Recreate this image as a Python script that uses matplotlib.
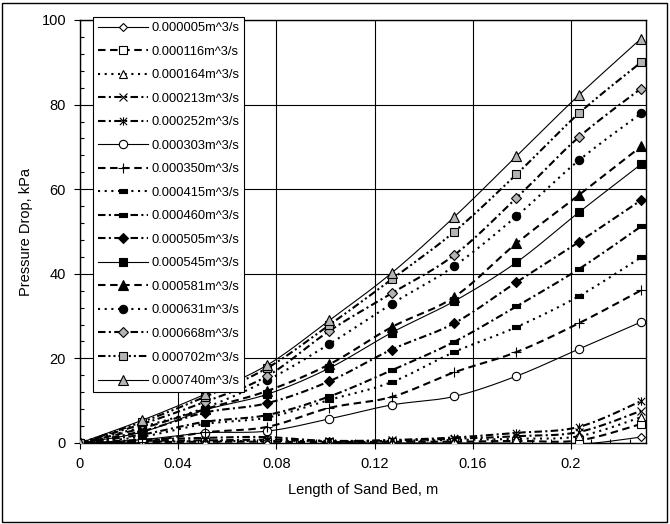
import numpy as np
import matplotlib
matplotlib.use("Agg")
import matplotlib.pyplot as plt
from matplotlib.lines import Line2D
from matplotlib.patches import Rectangle
from matplotlib.path import Path

plt.rcParams['font.family'] = ['Liberation Sans', 'DejaVu Sans']

# ---------------- data ----------------
bed_length = [0, 0.0254, 0.0508, 0.0762, 0.1016, 0.127, 0.1524, 0.1778, 0.2032, 0.2286]

flow_labels = ["0.000005m^3/s", "0.000116m^3/s", "0.000164m^3/s", "0.000213m^3/s",
               "0.000252m^3/s", "0.000303m^3/s", "0.000350m^3/s", "0.000415m^3/s",
               "0.000460m^3/s", "0.000505m^3/s", "0.000545m^3/s", "0.000581m^3/s",
               "0.000631m^3/s", "0.000668m^3/s", "0.000702m^3/s", "0.000740m^3/s"]

dp_000005 = [0, 0.0, -0.8, -0.8, 0.0, 0.0, 0.0, 0.0, -0.3, 1.4]
dp_000116 = [0, 0.2, 0.3, 0.3, 0.2, 0.3, 0.3, 0.5, 0.6, 4.5]
dp_000164 = [0, 0.3, 0.4, 0.5, 0.4, 0.5, 0.7, 1.0, 1.6, 6.1]
dp_000213 = [0, 0.5, 0.6, 0.8, 0.5, 0.6, 1.0, 1.6, 2.6, 7.6]
dp_000252 = [0, 0.8, 1.2, 1.4, 0.4, 0.7, 1.3, 2.4, 3.8, 9.9]
dp_000303 = [0, 0.8, 2.4, 2.8, 5.7, 9.0, 11.0, 15.8, 22.2, 28.6]
dp_000350 = [0, 0.3, 2.5, 3.8, 8.3, 10.9, 16.7, 21.5, 28.3, 36.1]
dp_000415 = [0, 1.5, 4.5, 6.0, 10.2, 14.4, 21.5, 27.4, 34.7, 43.9]
dp_000460 = [0, 2.0, 5.0, 6.6, 11.0, 17.2, 23.9, 32.3, 41.1, 51.2]
dp_000505 = [0, 2.8, 7.2, 9.4, 14.6, 22.1, 28.3, 38.0, 47.5, 57.4]
dp_000545 = [0, 2.6, 7.8, 11.5, 17.7, 26.1, 33.5, 42.7, 54.5, 65.9]
dp_000581 = [0, 3.5, 8.0, 12.3, 18.6, 27.4, 34.5, 47.2, 58.6, 70.1]
dp_000631 = [0, 3.8, 8.3, 14.8, 23.4, 32.9, 41.8, 53.6, 66.8, 77.9]
dp_000668 = [0, 4.5, 9.7, 15.8, 26.5, 35.4, 44.4, 57.9, 72.3, 83.8]
dp_000702 = [0, 5.0, 10.9, 17.7, 27.9, 38.7, 49.9, 63.5, 77.9, 90.0]
dp_000740 = [0, 5.4, 11.5, 18.4, 29.0, 40.2, 53.4, 67.8, 82.2, 95.6]

series = [dp_000005, dp_000116, dp_000164, dp_000213, dp_000252, dp_000303,
          dp_000350, dp_000415, dp_000460, dp_000505, dp_000545, dp_000581,
          dp_000631, dp_000668, dp_000702, dp_000740]

x_ticks = [0, 0.04, 0.08, 0.12, 0.16, 0.2]
x_tick_labels = ["0", "0.04", "0.08", "0.12", "0.16", "0.2"]
y_ticks = [0, 20, 40, 60, 80, 100]

# ---------------- styles ----------------
GRAY = '#b4b4b4'
asterisk = Path([(-1, -1), (1, 1), (-1, 1), (1, -1), (0, -1.15), (0, 1.15)],
                [Path.MOVETO, Path.LINETO, Path.MOVETO, Path.LINETO, Path.MOVETO, Path.LINETO])
dashmark = [(-1, -0.4), (1, -0.4), (1, 0.4), (-1, 0.4), (-1, -0.4)]

solid = '-'
dashed = (0, (3.6, 2.2))
dotted = (0, (1, 2.2))
dashdot = (0, (3.6, 1.6, 1, 1.6))
dashdotdot = (0, (3.6, 1.4, 1, 1.4, 1, 1.4))

styles = [
    dict(ls=solid, lw=0.8, marker='D', mfc='white', ms=4.5),
    dict(ls=dashed, lw=1.5, marker='s', mfc='white', ms=5.5),
    dict(ls=dotted, lw=1.5, marker='^', mfc='white', ms=6),
    dict(ls=dashdot, lw=1.5, marker='x', mfc='black', ms=6),
    dict(ls=dashdot, lw=1.5, marker=asterisk, mfc='black', ms=6),
    dict(ls=solid, lw=0.8, marker='o', mfc='white', ms=6),
    dict(ls=dashed, lw=1.5, marker='+', mfc='black', ms=7),
    dict(ls=dotted, lw=1.5, marker=dashmark, mfc='black', ms=6),
    dict(ls=dashdot, lw=1.5, marker=dashmark, mfc='black', ms=6),
    dict(ls=dashdot, lw=1.5, marker='D', mfc='black', ms=5),
    dict(ls=solid, lw=0.8, marker='s', mfc='black', ms=6),
    dict(ls=dashed, lw=1.5, marker='^', mfc='black', ms=6.5),
    dict(ls=dotted, lw=1.5, marker='o', mfc='black', ms=6),
    dict(ls=dashdot, lw=1.5, marker='D', mfc=GRAY, ms=5),
    dict(ls=dashdotdot, lw=1.5, marker='s', mfc=GRAY, ms=6),
    dict(ls=solid, lw=0.8, marker='^', mfc=GRAY, ms=6.5),
]


def smooth(xs, ys, n=24):
    """Excel-like Bezier smoothing through the data points."""
    xs = np.asarray(xs, float)
    ys = np.asarray(ys, float)
    P = np.column_stack([xs, ys])
    out = [P[0]]
    for i in range(len(P) - 1):
        p0 = P[i - 1] if i > 0 else P[i]
        p1 = P[i]
        p2 = P[i + 1]
        p3 = P[i + 2] if i + 2 < len(P) else P[i + 1]
        c1 = p1 + (p2 - p0) / 6.0
        c2 = p2 - (p3 - p1) / 6.0
        t = np.linspace(0, 1, n)[1:, None]
        seg = ((1 - t) ** 3) * p1 + 3 * ((1 - t) ** 2) * t * c1 + 3 * (1 - t) * t ** 2 * c2 + t ** 3 * p2
        out.extend(seg)
    out = np.array(out)
    return out[:, 0], out[:, 1]


fig = plt.figure(figsize=(6.7, 5.24), dpi=100)
ax = fig.add_axes([80 / 670, 1 - 443 / 524, 566 / 670, 423 / 524])

handles = []
for ys, lab, st in zip(series, flow_labels, styles):
    sx, sy = smooth(bed_length, ys)
    ax.plot(sx, sy, color='black', linestyle=st['ls'], linewidth=st['lw'], zorder=3)
    ax.plot(bed_length, ys, linestyle='none', marker=st['marker'], markersize=st['ms'],
            markerfacecolor=st['mfc'], markeredgecolor='black', markeredgewidth=0.8, zorder=4)
    handles.append(Line2D([], [], color='black', linestyle=st['ls'], linewidth=st['lw'],
                          marker=st['marker'], markersize=st['ms'], markerfacecolor=st['mfc'],
                          markeredgecolor='black', markeredgewidth=0.8, label=lab))

ax.set_xlim(0, 0.2306)
ax.set_ylim(0, 100)
ax.set_xticks(x_ticks)
ax.set_xticklabels(x_tick_labels)
ax.set_yticks(y_ticks)
ax.set_xticks(np.arange(0, 0.2306, 0.008), minor=True)
ax.set_yticks(np.arange(0, 101, 4), minor=True)
ax.tick_params(which='major', direction='out', length=4, width=0.8, labelsize=10.5, pad=6)
ax.tick_params(which='minor', direction='in', length=3, width=0.8)
ax.grid(True, which='major', color='black', linewidth=0.8)
ax.set_axisbelow(True)
for sp in ax.spines.values():
    sp.set_linewidth(1.0)

ax.set_xlabel("Length of Sand Bed, m", fontsize=10.5, labelpad=9)
ax.set_ylabel("Pressure Drop, kPa", fontsize=10.5, labelpad=6)

leg = ax.legend(handles=handles, loc='upper left', bbox_to_anchor=(13 / 566, 1.006),
                fontsize=9.3, frameon=True, fancybox=False, framealpha=1,
                edgecolor='black', handlelength=3.9, handletextpad=0.3,
                labelspacing=0.89, borderpad=0.35, borderaxespad=0)
leg.get_frame().set_linewidth(0.8)
leg.set_zorder(10)

fig.patches.append(Rectangle((2 / 670, 2 / 524), 665 / 670, 519 / 524, transform=fig.transFigure,
                             fill=False, edgecolor='black', linewidth=1.0))

fig.savefig("out.png", dpi=100)
